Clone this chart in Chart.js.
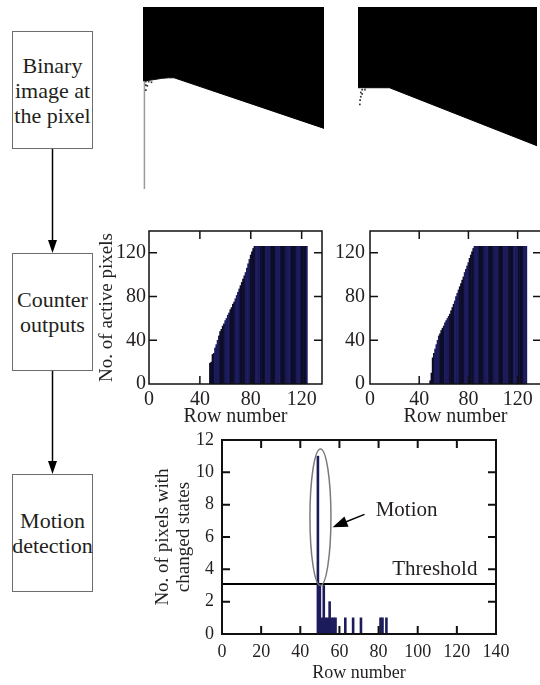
<!DOCTYPE html>
<html>
<head>
<meta charset="utf-8">
<script src="https://cdn.jsdelivr.net/npm/chart.js@4.4.0/dist/chart.umd.min.js"></script>
<style>
  body { margin: 0; width: 540px; height: 685px; overflow: hidden; background: #fff; position: relative; font-family: "Liberation Serif", serif; color: #231f20; }
  .box { position: absolute; left: 12px; width: 81px; height: 118px; border: 1.5px solid #6d6d6d; box-sizing: border-box;
         display: flex; align-items: center; justify-content: center; text-align: center; font-size: 22px; line-height: 25px; }
  .pane { position: absolute; }
  svg { position: absolute; left: 0; top: 0; }
</style>
</head>
<body>

<div class="box" style="top:31px">Binary<br>image at<br>the pixel</div>
<div class="box" style="top:253px">Counter<br>outputs</div>
<div class="box" style="top:474px">Motion<br>detection</div>
<svg width="110" height="685">
  <line x1="52.5" y1="149" x2="52.5" y2="242" stroke="#000" stroke-width="1.5"/>
  <polygon points="48,240 57,240 52.5,253" fill="#000"/>
  <line x1="52.5" y1="371" x2="52.5" y2="463" stroke="#000" stroke-width="1.5"/>
  <polygon points="48,461 57,461 52.5,474" fill="#000"/>
</svg>

<div class="pane" style="left:143px;top:7px"><canvas id="imgA" width="181" height="182"></canvas></div>
<div class="pane" style="left:358px;top:7px"><canvas id="imgB" width="179" height="178"></canvas></div>
<div class="pane" style="left:60px;top:215px"><canvas id="countA" width="278" height="215"></canvas></div>
<div class="pane" style="left:320px;top:215px"><canvas id="countB" width="237" height="215"></canvas></div>
<div class="pane" style="left:130px;top:425px"><canvas id="motion" width="382" height="260"></canvas></div>

<script>
// binary images: boundary of the black region (column, row)
var imgACols = [-1, 3, 8, 12, 17, 21, 127];
var imgARows = [51.5, 51.2, 50.5, 49.8, 49.4, 49.4, 84.7];
var imgANoiseCols = [1, 3, 5, 1, 2, 1];
var imgANoiseRows = [52, 52, 52.5, 54.5, 55, 58];
var imgAEdgeRows = [51.5, 127];

var imgBCols = [-1, 21.5, 127];
var imgBRows = [57.6, 57.6, 99];
var imgBNoiseCols = [2, 4, 1, 2, 1, 0.5, 0.3];
var imgBNoiseRows = [59, 59, 61, 62, 64, 66.5, 69.5];

// counter outputs (active pixels per row)
var countAFirstRow = 48;
var countAValues = [19, 20, 27, 28, 33, 36, 40, 44, 48, 50, 53, 55, 58, 60, 63, 65, 68, 70, 73, 75,
  78, 81, 84, 87, 90, 93, 96, 99, 102, 106, 110, 114, 118, 121, 124,
  126, 126, 126, 126, 126, 126, 126, 126, 126, 126, 126, 126, 126, 126, 126, 126, 126, 126, 126, 126, 126,
  126, 126, 126, 126, 126, 126, 126, 126, 126, 126, 126, 126, 126, 126, 126, 126, 126, 126, 126, 126, 126];
var countBFirstRow = 49;
var countBValues = [3, 10, 24, 28, 32, 36, 40, 44, 46, 49, 51, 53, 56, 58, 60, 62, 64, 67, 70, 73,
  76, 80, 83, 86, 89, 92, 95, 98, 102, 105, 108, 111, 115, 118, 121, 124,
  126, 126, 126, 126, 126, 126, 126, 126, 126, 126, 126, 126, 126, 126, 126, 126, 126, 126, 126, 126, 126,
  126, 126, 126, 126, 126, 126, 126, 126, 126, 126, 126, 126, 126, 126, 126, 126, 126, 126, 126, 126, 126, 126];

// motion detection
var changedRows = [49, 50, 51, 52, 53, 54, 55, 56, 57, 58, 63, 67, 71, 81, 82, 84];
var changedCounts = [11, 3, 1, 3, 1, 1, 2, 1, 1, 1, 1, 1, 1, 1, 1, 1];
var threshold = 3.1;

// annotation placement (data units)
var ringRow = 50.3, ringTop = 11.45, ringBottom = 3.0, ringHalfWidth = 10.5;
var arrowFrom = [72.8, 7.4], arrowTo = [56.5, 6.6];
var motionAt = [78.5, 7.65], thresholdAt = [130.5, 4.0];

Chart.defaults.font.family = '"Liberation Serif", serif';
Chart.defaults.color = '#231f20';

function pairs(xs, ys) {
  return xs.map(function (x, i) { return {x: x, y: ys[i]}; });
}
function rowsFrom(first, vals) {
  return vals.map(function (v, i) { return {x: first + i, y: v}; });
}

// box + inward tick marks on all four sides
var frame = {
  id: 'frame',
  afterDatasetsDraw: function (chart, args, opts) {
    var ctx = chart.ctx, a = chart.chartArea;
    var xs = chart.scales.x, ys = chart.scales.y;
    ctx.save();
    ctx.strokeStyle = '#111';
    ctx.lineWidth = opts.width;
    ctx.beginPath();
    xs.ticks.forEach(function (t) {
      var p = xs.getPixelForValue(t.value);
      if (p < a.left + 2 || p > a.right - 2) return;
      ctx.moveTo(p, a.bottom); ctx.lineTo(p, a.bottom - opts.len);
      ctx.moveTo(p, a.top); ctx.lineTo(p, a.top + opts.len);
    });
    ys.ticks.forEach(function (t) {
      var p = ys.getPixelForValue(t.value);
      if (p > a.bottom - 2 || p < a.top + 2) return;
      ctx.moveTo(a.left, p); ctx.lineTo(a.left + opts.len, p);
      ctx.moveTo(a.right, p); ctx.lineTo(a.right - opts.len, p);
    });
    ctx.stroke();
    ctx.strokeRect(a.left, a.top, a.right - a.left, a.bottom - a.top);
    ctx.restore();
  }
};
Chart.register(frame);

function binaryImage(id, cols, rows, noiseCols, noiseRows, edgeRows) {
  var sets = [{
    data: pairs(cols, rows), borderColor: '#000', borderWidth: 1, backgroundColor: '#000',
    fill: {value: 0}, pointRadius: 0, pointHoverRadius: 0, tension: 0
  }, {
    data: pairs(noiseCols, noiseRows), showLine: false, pointStyle: 'rect',
    pointRadius: 1.2, pointHoverRadius: 0, pointBackgroundColor: '#333', pointBorderWidth: 0
  }];
  if (edgeRows) {
    sets.push({data: pairs([0, 0], edgeRows), borderColor: '#9a9a9a', borderWidth: 1.5, pointRadius: 0, pointHoverRadius: 0, fill: false});
  }
  new Chart(document.getElementById(id), {
    type: 'line',
    data: {datasets: sets},
    options: {
      responsive: false, animation: false, events: [],
      layout: {padding: 0, autoPadding: false},
      plugins: {legend: {display: false}, tooltip: {enabled: false}, frame: false},
      scales: {
        x: {type: 'linear', min: -1, max: 127, display: false},
        y: {type: 'linear', min: 0, max: 127, reverse: true, display: false}
      }
    }
  });
}

function counterChart(id, first, vals, xMax, yWidth, yTitle, yPad) {
  new Chart(document.getElementById(id), {
    type: 'bar',
    data: {datasets: [{
      data: rowsFrom(first, vals),
      backgroundColor: function (c) { return Math.floor(c.dataIndex / 4) % 2 ? '#1b1b5c' : '#0d0d2a'; },
      barPercentage: 1, categoryPercentage: 1, borderWidth: 0
    }]},
    options: {
      responsive: false, animation: false, events: [],
      layout: {padding: {top: 16, right: 16, left: 0, bottom: 0}, autoPadding: false},
      plugins: {legend: {display: false}, tooltip: {enabled: false}, frame: {width: 1.5, len: 8}},
      scales: {
        x: {
          type: 'linear', min: 0, max: xMax, offset: false,
          grid: {display: false, drawTicks: false}, border: {display: false},
          ticks: {stepSize: 40, includeBounds: false, padding: 4, maxRotation: 0, autoSkip: false, font: {size: 20}},
          title: {display: true, text: 'Row number', font: {size: 20}, padding: {top: 0, bottom: 1}},
          afterFit: function (s) { s.height = 46; s.paddingLeft = 0; s.paddingRight = 0; }
        },
        y: {
          min: 0, max: 140,
          grid: {display: false, drawTicks: false}, border: {display: false},
          ticks: {stepSize: 40, includeBounds: false, padding: yPad, font: {size: 20}},
          title: {display: !!yTitle, text: yTitle || '', font: {size: 19}, padding: {top: 36, bottom: 0}},
          afterFit: function (s) { s.width = yWidth; s.paddingTop = 0; s.paddingBottom = 0; }
        }
      }
    }
  });
}

var notes = {
  id: 'notes',
  afterDatasetsDraw: function (chart) {
    var ctx = chart.ctx, xs = chart.scales.x, ys = chart.scales.y;
    ctx.save();
    var cx = xs.getPixelForValue(ringRow);
    var top = ys.getPixelForValue(ringTop), bot = ys.getPixelForValue(ringBottom);
    ctx.strokeStyle = '#7a7a7a';
    ctx.lineWidth = 1.5;
    ctx.beginPath();
    ctx.ellipse(cx, (top + bot) / 2, ringHalfWidth, (bot - top) / 2, 0, 0, Math.PI * 2);
    ctx.stroke();

    var x1 = xs.getPixelForValue(arrowFrom[0]), y1 = ys.getPixelForValue(arrowFrom[1]);
    var x2 = xs.getPixelForValue(arrowTo[0]), y2 = ys.getPixelForValue(arrowTo[1]);
    var ang = Math.atan2(y2 - y1, x2 - x1), c = Math.cos(ang), s = Math.sin(ang);
    ctx.strokeStyle = '#000';
    ctx.fillStyle = '#000';
    ctx.lineWidth = 1.5;
    ctx.beginPath();
    ctx.moveTo(x1, y1);
    ctx.lineTo(x2 - 10 * c, y2 - 10 * s);
    ctx.stroke();
    ctx.beginPath();
    ctx.moveTo(x2, y2);
    ctx.lineTo(x2 - 15 * c + 5.5 * s, y2 - 15 * s - 5.5 * c);
    ctx.lineTo(x2 - 15 * c - 5.5 * s, y2 - 15 * s + 5.5 * c);
    ctx.closePath();
    ctx.fill();

    ctx.font = '21px "Liberation Serif"';
    ctx.fillStyle = '#231f20';
    ctx.textBaseline = 'middle';
    ctx.textAlign = 'left';
    ctx.fillText('Motion', xs.getPixelForValue(motionAt[0]), ys.getPixelForValue(motionAt[1]));
    ctx.textAlign = 'right';
    ctx.fillText('Threshold', xs.getPixelForValue(thresholdAt[0]), ys.getPixelForValue(thresholdAt[1]));
    ctx.restore();
  }
};

binaryImage('imgA', imgACols, imgARows, imgANoiseCols, imgANoiseRows, imgAEdgeRows);
binaryImage('imgB', imgBCols, imgBRows, imgBNoiseCols, imgBNoiseRows, null);
counterChart('countA', countAFirstRow, countAValues, 136, 89, 'No. of active pixels', 3);
counterChart('countB', countBFirstRow, countBValues, 139, 50, null, 5);

new Chart(document.getElementById('motion'), {
  type: 'bar',
  data: {datasets: [{
    data: pairs(changedRows, changedCounts),
    backgroundColor: '#1c1c5c', barPercentage: 1, categoryPercentage: 1, borderWidth: 0
  }, {
    type: 'line',
    data: pairs([0, 140], [threshold, threshold]),
    borderColor: '#000', borderWidth: 2, pointRadius: 0, pointHoverRadius: 0, fill: false
  }]},
  options: {
    responsive: false, animation: false, events: [],
    layout: {padding: {top: 15, right: 16, left: 0, bottom: 0}, autoPadding: false},
    plugins: {legend: {display: false}, tooltip: {enabled: false}, frame: {width: 2, len: 8}},
    scales: {
      x: {
        type: 'linear', min: 0, max: 140, offset: false,
        grid: {display: false, drawTicks: false}, border: {display: false},
        ticks: {stepSize: 20, padding: 7, maxRotation: 0, autoSkip: false, font: {size: 18}},
        title: {display: true, text: 'Row number', font: {size: 18}, padding: {top: 0, bottom: 1}},
        afterFit: function (s) { s.height = 51; s.paddingLeft = 0; s.paddingRight = 0; }
      },
      y: {
        min: 0, max: 12,
        grid: {display: false, drawTicks: false}, border: {display: false},
        ticks: {stepSize: 2, padding: 8, font: {size: 18}},
        title: {display: true, text: ['No. of pixels with', 'changed states'], font: {size: 19, lineHeight: 1.1}, padding: {top: 23, bottom: 0}},
        afterFit: function (s) { s.width = 92; s.paddingTop = 0; s.paddingBottom = 0; }
      }
    }
  },
  plugins: [notes]
});
</script>
</body>
</html>
